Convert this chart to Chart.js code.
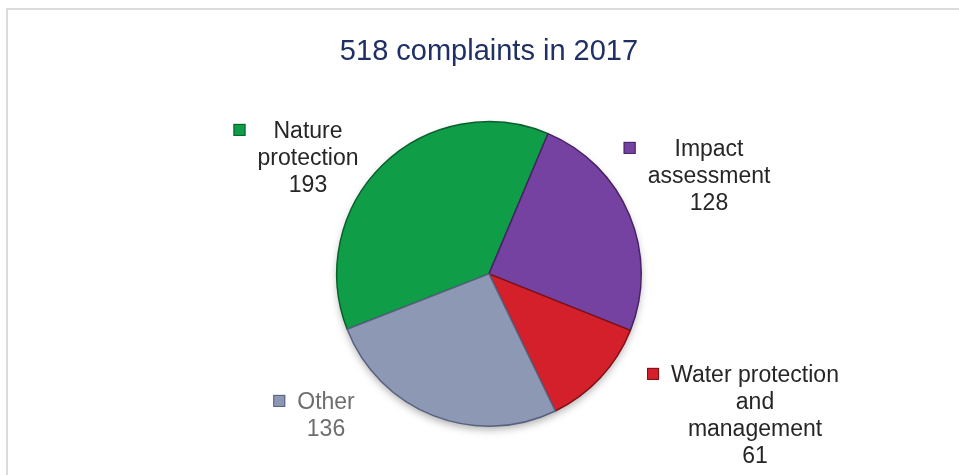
<!DOCTYPE html>
<html>
<head>
<meta charset="utf-8">
<script src="https://cdn.jsdelivr.net/npm/chart.js@4.4.1/dist/chart.umd.min.js"></script>
<style>
    html, body { margin: 0; padding: 0; background: #fff; }
    #wrap { width: 959px; height: 475px; }
</style>
</head>
<body>
<div id="wrap"><canvas id="complaintsChart" width="959" height="475"></canvas></div>
<script>
// chart data
const categories = ['Nature protection', 'Impact assessment', 'Water protection and management', 'Other'];
const complaints = [193, 128, 61, 136];
const labelLines = [['Nature', 'protection'], ['Impact', 'assessment'], ['Water protection', 'and', 'management'], ['Other']];
const chartTitle = '518 complaints in 2017';

// slice colours (base / edge)
const baseColors = ['#0f9d48', '#7642a2', '#d4202a', '#8d98b4'];
const edgeColors = ['#08602b', '#472366', '#820f16', '#58617e'];
const textColors = ['#262626', '#262626', '#262626', '#6e6e6e'];

// label block placement relative to the pie centre: [centre x, first baseline y]
const labelOffsets = [[-181, -136], [220, -118], [266, 108], [-163, 135]];
const lineHeight = 27;

function sliceFill(context) {
    const chart = context.chart;
    const i = context.dataIndex;
    const meta = chart.getDatasetMeta(0);
    const arc = meta.data[i];
    if (!arc || !arc.outerRadius) return baseColors[i];
    const g = chart.ctx.createRadialGradient(arc.x, arc.y, 0, arc.x, arc.y, arc.outerRadius);
    g.addColorStop(0, baseColors[i]);
    g.addColorStop(0.93, baseColors[i]);
    g.addColorStop(1, edgeColors[i]);
    return g;
}

// frame, shadow and outside labels
const decorPlugin = {
    id: 'decor',
    beforeDraw(chart) {
        const ctx = chart.ctx;
        ctx.save();
        ctx.strokeStyle = '#dcdcdc';
        ctx.lineWidth = 2;
        ctx.beginPath();
        ctx.moveTo(7, 475);
        ctx.lineTo(7, 9);
        ctx.lineTo(959, 9);
        ctx.stroke();
        ctx.restore();
    },
    beforeDatasetsDraw(chart) {
        const arc = chart.getDatasetMeta(0).data[0];
        if (!arc) return;
        const ctx = chart.ctx;
        ctx.save();
        ctx.shadowColor = 'rgba(0,0,0,0.35)';
        ctx.shadowBlur = 9;
        ctx.shadowOffsetY = 4;
        ctx.fillStyle = '#888';
        ctx.beginPath();
        ctx.arc(arc.x, arc.y, arc.outerRadius - 1, 0, Math.PI * 2);
        ctx.fill();
        ctx.restore();
    },
    afterDatasetsDraw(chart) {
        const ctx = chart.ctx;
        const arcs = chart.getDatasetMeta(0).data;
        ctx.save();
        ctx.font = '23px "Liberation Sans", Arial, sans-serif';
        ctx.textAlign = 'center';
        ctx.textBaseline = 'alphabetic';
        arcs.forEach((arc, i) => {
            const lines = labelLines[i].concat([String(complaints[i])]);
            const cx = arc.x + labelOffsets[i][0];
            const y0 = arc.y + labelOffsets[i][1];
            let widest = 0;
            lines.forEach(l => { widest = Math.max(widest, ctx.measureText(l).width); });
            ctx.fillStyle = textColors[i];
            lines.forEach((l, k) => ctx.fillText(l, cx, y0 + k * lineHeight));
            // legend key square
            const mx = cx - widest / 2 - 12 - 12;
            const my = y0 - 14;
            ctx.fillStyle = baseColors[i];
            ctx.fillRect(mx, my, 12, 12);
            ctx.strokeStyle = edgeColors[i];
            ctx.lineWidth = 1;
            ctx.strokeRect(mx + 0.5, my + 0.5, 11, 11);
        });
        ctx.restore();
    }
};

const ctx = document.getElementById('complaintsChart').getContext('2d');
const complaintsChart = new Chart(ctx, {
    type: 'pie',
    data: {
        labels: categories,
        datasets: [{
            data: complaints,
            backgroundColor: sliceFill,
            borderColor: edgeColors,
            borderWidth: 1.5
        }]
    },
    options: {
        responsive: false,
        animation: false,
        rotation: -111.3,
        layout: {
            padding: { left: 336, right: 317, top: 0, bottom: 48 }
        },
        plugins: {
            legend: { display: false },
            tooltip: { enabled: false },
            title: {
                display: true,
                text: chartTitle,
                color: '#203064',
                font: { family: '"Liberation Sans", Arial, sans-serif', size: 29, weight: 'normal' },
                padding: { top: 35, bottom: 51 }
            }
        }
    },
    plugins: [decorPlugin]
});
</script>
</body>
</html>
